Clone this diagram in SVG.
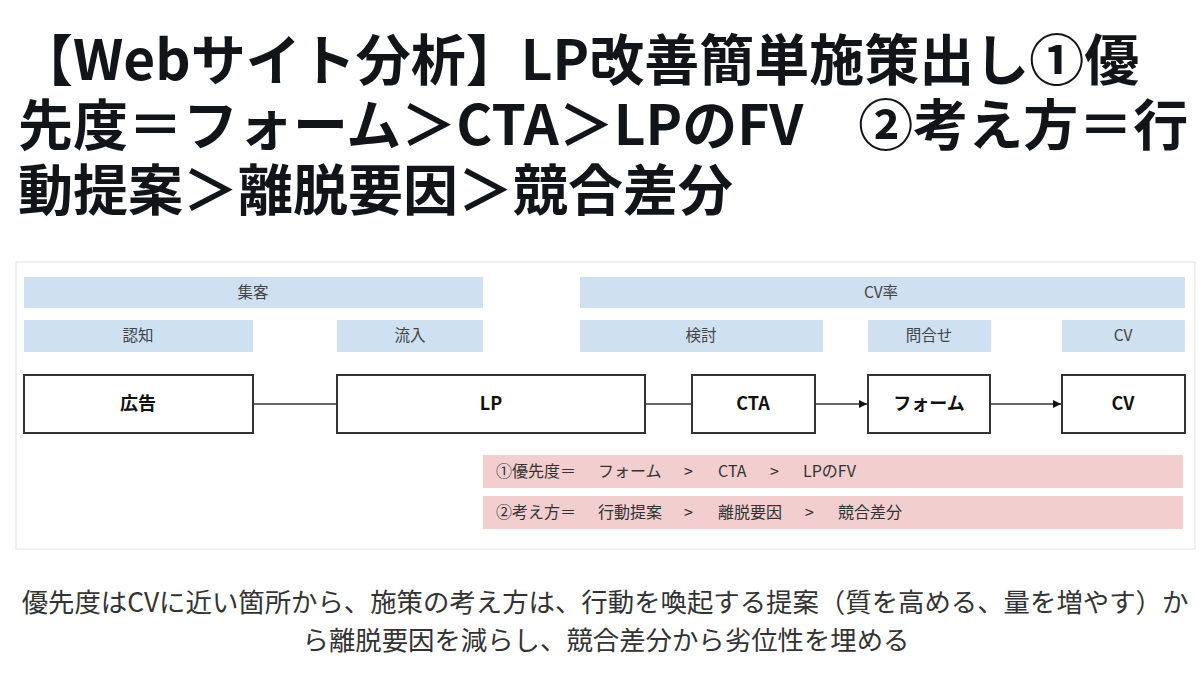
<svg xmlns="http://www.w3.org/2000/svg" width="1200" height="688" viewBox="0 0 1200 688">
<defs>
<style>
.title{font-family:"Noto Sans CJK JP","Noto Sans",sans-serif;font-weight:700;font-size:55px;fill:#111418}
.cap{font-family:"Noto Sans CJK JP","Noto Sans",sans-serif;font-size:26.4px;fill:#333;text-anchor:middle}
.bar{fill:#cfe0f0}
.pink{fill:#f2cecf}
.lbl{font-family:"Noto Sans CJK JP","Noto Sans",sans-serif;font-size:15.5px;fill:#444;text-anchor:middle}
.box{fill:#fff;stroke:#333;stroke-width:2}
.bl{font-family:"Noto Sans CJK JP","Noto Sans",sans-serif;font-weight:700;font-size:18px;fill:#111;text-anchor:middle}
.pt{font-family:"Noto Sans CJK JP","Noto Sans",sans-serif;font-size:16px;fill:#333}
.edge{stroke:#333;stroke-width:1.6;fill:none}
</style>
<marker id="arr" viewBox="0 0 10 10" refX="10" refY="5" markerWidth="10" markerHeight="8" markerUnits="userSpaceOnUse" orient="auto">
<path d="M0,0 L10,5 L0,10 z" fill="#111"/>
</marker>
</defs>
<rect width="1200" height="688" fill="#fff"/>
<g id="title">
<text class="title" x="18" y="80">【Webサイト分析】LP改善簡単施策出し①優</text>
<text class="title" x="18" y="145">先度＝フォーム＞CTA＞LPのFV　②考え方＝行</text>
<text class="title" x="18" y="210">動提案＞離脱要因＞競合差分</text>
</g>
<rect x="16" y="262" width="1179" height="287" fill="#fff" stroke="#ececec" stroke-width="1.5"/>
<g id="band-shukyaku"><rect class="bar" x="24" y="277" width="459" height="31"/><text class="lbl" x="253" y="298">集客</text></g>
<g id="band-cvrate"><rect class="bar" x="580" y="277" width="605" height="31"/><text class="lbl" x="881" y="298">CV率</text></g>
<g id="band-ninchi"><rect class="bar" x="24" y="320" width="229" height="32"/><text class="lbl" x="138" y="341">認知</text></g>
<g id="band-ryunyu"><rect class="bar" x="337" y="320" width="146" height="32"/><text class="lbl" x="410" y="341">流入</text></g>
<g id="band-kento"><rect class="bar" x="580" y="320" width="243" height="32"/><text class="lbl" x="701" y="341">検討</text></g>
<g id="band-toiawase"><rect class="bar" x="868" y="320" width="123" height="32"/><text class="lbl" x="929" y="341">問合せ</text></g>
<g id="band-cv"><rect class="bar" x="1062" y="320" width="123" height="32"/><text class="lbl" x="1123" y="341">CV</text></g>
<g id="connectors">
<line class="edge" x1="253" y1="404" x2="337" y2="404"/>
<line class="edge" x1="645" y1="404" x2="692" y2="404"/>
<line class="edge" x1="815" y1="404" x2="867" y2="404" marker-end="url(#arr)"/>
<line class="edge" x1="990" y1="404" x2="1061" y2="404" marker-end="url(#arr)"/>
</g>
<g id="node-kokoku"><rect class="box" x="24" y="375" width="229" height="58"/><text class="bl" x="138" y="410">広告</text></g>
<g id="node-lp"><rect class="box" x="337" y="375" width="308" height="58"/><text class="bl" x="491" y="410">LP</text></g>
<g id="node-cta"><rect class="box" x="692" y="375" width="123" height="58"/><text class="bl" x="753" y="410">CTA</text></g>
<g id="node-form"><rect class="box" x="868" y="375" width="122" height="58"/><text class="bl" x="929" y="410">フォーム</text></g>
<g id="node-cv"><rect class="box" x="1062" y="375" width="123" height="58"/><text class="bl" x="1123" y="410">CV</text></g>
<g id="priority"><rect class="pink" x="483" y="455" width="700" height="33"/>
<text class="pt" y="477"><tspan x="496">①優先度＝</tspan><tspan x="598">フォーム</tspan><tspan x="684">&gt;</tspan><tspan x="718">CTA</tspan><tspan x="770">&gt;</tspan><tspan x="803">LPのFV</tspan></text></g>
<g id="approach"><rect class="pink" x="483" y="496" width="700" height="33"/>
<text class="pt" y="518"><tspan x="496">②考え方＝</tspan><tspan x="598">行動提案</tspan><tspan x="684">&gt;</tspan><tspan x="718">離脱要因</tspan><tspan x="805">&gt;</tspan><tspan x="838">競合差分</tspan></text></g>
<g id="caption">
<text class="cap" x="605" y="612">優先度はCVに近い箇所から、施策の考え方は、行動を喚起する提案（質を高める、量を増やす）か</text>
<text class="cap" x="606" y="650">ら離脱要因を減らし、競合差分から劣位性を埋める</text>
</g>
</svg>
